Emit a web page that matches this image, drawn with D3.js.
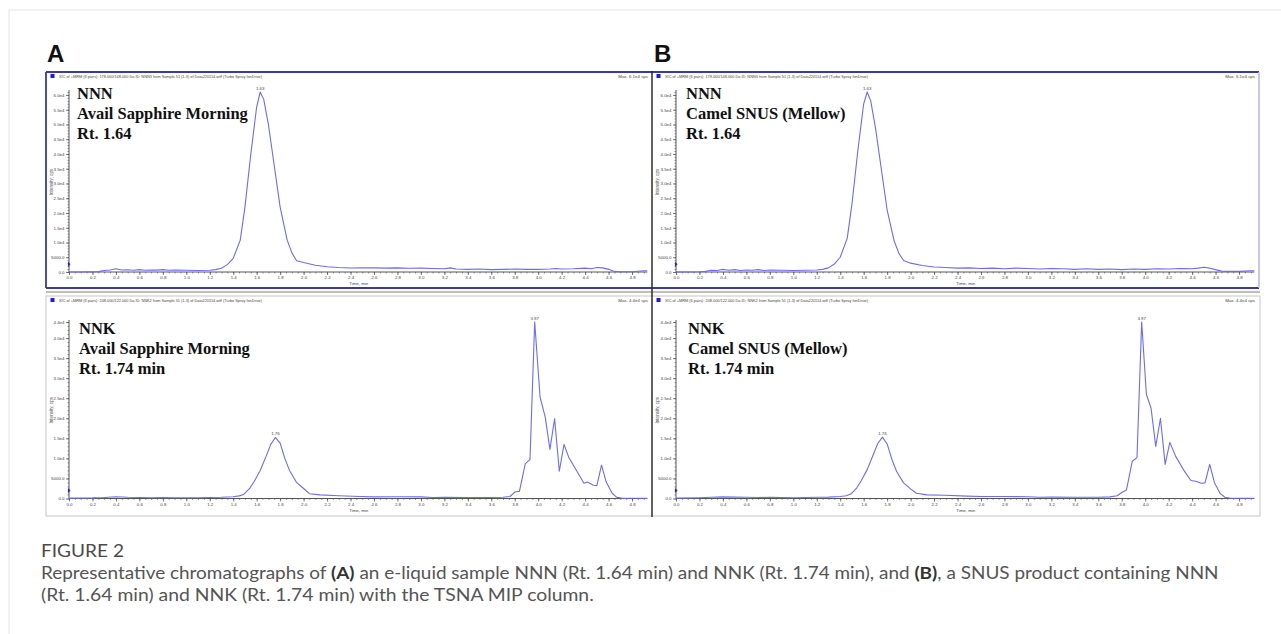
<!DOCTYPE html>
<html><head><meta charset="utf-8">
<script src="https://cdn.jsdelivr.net/npm/d3@7/dist/d3.min.js"></script>
<style>body{margin:0;background:#fff;}svg{display:block}</style>
</head><body>
<svg id="c" width="1281" height="634"></svg>
<script>
// ---------- DATA ----------
const timeTicks = [0.0,0.2,0.4,0.6,0.8,1.0,1.2,1.4,1.6,1.8,2.0,2.2,2.4,2.6,2.8,3.0,3.2,3.4,3.6,3.8,4.0,4.2,4.4,4.6,4.8];
const timeTickLabels = ["0.0","0.2","0.4","0.6","0.8","1.0","1.2","1.4","1.6","1.8","2.0","2.2","2.4","2.6","2.8","3.0","3.2","3.4","3.6","3.8","4.0","4.2","4.4","4.6","4.8"];
const nnnTicks = [0,5000,10000,15000,20000,25000,30000,35000,40000,45000,50000,55000,60000];
const nnnTickLabels = ["0.0","5000.0","1.0e4","1.5e4","2.0e4","2.5e4","3.0e4","3.5e4","4.0e4","4.5e4","5.0e4","5.5e4","6.0e4"];
const nnkTicks = [0,5000,10000,15000,20000,25000,30000,35000,40000,44000];
const nnkTickLabels = ["0.0","5000.0","1.0e4","1.5e4","2.0e4","2.5e4","3.0e4","3.5e4","4.0e4","4.4e4"];

const panelLetters = ["A","B"];
const productNames = ["Avail Sapphire Morning","Camel SNUS (Mellow)"];
const nnnLabels = ["NNN","Rt. 1.64"];
const nnkLabels = ["NNK","Rt. 1.74 min"];
const nnnHeader = "XIC of +MRM (6 pairs): 178.000/148.000 Da ID: NNN3 from Sample 51 (1-3) of Data220114.wiff (Turbo Spray IonDrive)";
const nnkHeader = "XIC of +MRM (6 pairs): 208.000/122.000 Da ID: NNK2 from Sample 51 (1-3) of Data220114.wiff (Turbo Spray IonDrive)";
const nnnMax = "Max. 6.1e4 cps";
const nnkMax = "Max. 4.4e4 cps";
const nnnPeak = {t:1.63, label:"1.63"};
const nnkPeaks = [{t:1.76, label:"1.76"},{t:3.97, label:"3.97"}];

// [time (min), intensity (cps)]
const nnnAvail = [[0,0],[0.1,0],[0.2,50],[0.25,100],[0.27,300],[0.3,500],[0.35,700],[0.4,1100],[0.45,700],[0.5,750],[0.55,600],[0.6,800],[0.65,600],[0.7,700],[0.75,650],[0.8,800],[0.85,600],[0.9,650],[1.0,600],[1.1,500],[1.2,600],[1.25,800],[1.3,1300],[1.35,2500],[1.4,4600],[1.46,10800],[1.5,22000],[1.55,40000],[1.6,56000],[1.63,61000],[1.66,58500],[1.7,50000],[1.75,36000],[1.8,22000],[1.86,10800],[1.9,6500],[1.94,3800],[2.0,3200],[2.1,2300],[2.2,1800],[2.3,1500],[2.4,1350],[2.5,1450],[2.6,1400],[2.7,1300],[2.8,1400],[2.9,1250],[3.0,1300],[3.1,1200],[3.2,1100],[3.25,1400],[3.3,1000],[3.4,900],[3.5,1000],[3.6,800],[3.7,900],[3.8,1000],[3.9,900],[4.0,900],[4.1,1000],[4.15,1200],[4.2,1000],[4.3,1100],[4.4,1300],[4.45,1100],[4.5,1500],[4.55,1400],[4.6,900],[4.65,200],[4.7,100],[4.8,100],[4.9,400],[4.93,400]];
const nnnCamel = [[0,0],[0.1,0],[0.2,100],[0.25,200],[0.3,600],[0.35,500],[0.4,900],[0.45,600],[0.5,800],[0.55,500],[0.6,700],[0.65,600],[0.7,800],[0.75,500],[0.8,700],[0.9,600],[1.0,500],[1.1,600],[1.2,700],[1.25,900],[1.3,1400],[1.35,2700],[1.4,5000],[1.46,11500],[1.5,23000],[1.55,41000],[1.6,57000],[1.63,61000],[1.66,58000],[1.7,49000],[1.75,35000],[1.8,21000],[1.86,10500],[1.9,6300],[1.94,3900],[2.0,3000],[2.1,2200],[2.2,1700],[2.3,1500],[2.4,1300],[2.5,1400],[2.6,1200],[2.7,1300],[2.8,1100],[2.9,1300],[3.0,1200],[3.1,1000],[3.2,1200],[3.3,1100],[3.4,900],[3.5,1100],[3.6,900],[3.7,1000],[3.8,800],[3.9,1000],[4.0,900],[4.1,1100],[4.2,1000],[4.3,1200],[4.4,1100],[4.45,1300],[4.5,1600],[4.55,1300],[4.6,800],[4.65,300],[4.7,200],[4.8,200],[4.9,400],[4.93,400]];
const nnkAvail = [[0,100],[0.2,150],[0.3,250],[0.4,450],[0.5,300],[0.6,250],[0.7,200],[0.8,250],[0.9,200],[1.0,200],[1.1,200],[1.2,250],[1.3,300],[1.4,450],[1.45,650],[1.49,1000],[1.54,2500],[1.58,4300],[1.63,7000],[1.68,10500],[1.72,13500],[1.76,15200],[1.8,13800],[1.84,10000],[1.88,7000],[1.94,4000],[2.0,2500],[2.05,1200],[2.14,900],[2.3,700],[2.48,500],[2.6,400],[2.8,450],[3.0,400],[3.1,250],[3.2,300],[3.4,250],[3.6,250],[3.7,300],[3.76,500],[3.8,1600],[3.84,1800],[3.89,8700],[3.93,9700],[3.97,44000],[4.016,25300],[4.06,20300],[4.1,12250],[4.14,19900],[4.18,6800],[4.22,13500],[4.26,10300],[4.33,6800],[4.39,3800],[4.42,4100],[4.47,3300],[4.5,3200],[4.54,8300],[4.58,4100],[4.63,1300],[4.67,300],[4.71,100],[4.8,50],[4.93,50]];
const nnkCamel = [[0,100],[0.2,200],[0.3,300],[0.4,400],[0.5,350],[0.6,300],[0.7,250],[0.8,300],[0.9,250],[1.0,200],[1.1,250],[1.2,300],[1.3,350],[1.4,500],[1.45,700],[1.49,1100],[1.54,2600],[1.58,4500],[1.63,7200],[1.68,10800],[1.72,13700],[1.76,15300],[1.8,13600],[1.84,9800],[1.88,6800],[1.94,3900],[2.0,2400],[2.05,1300],[2.14,900],[2.3,800],[2.48,600],[2.6,500],[2.8,500],[3.0,450],[3.1,300],[3.2,350],[3.4,300],[3.6,300],[3.7,400],[3.76,700],[3.8,1500],[3.84,2100],[3.89,9300],[3.93,10200],[3.97,44000],[4.01,26000],[4.05,22500],[4.09,13000],[4.13,20000],[4.17,8500],[4.21,14000],[4.26,10500],[4.33,7000],[4.39,4500],[4.43,4300],[4.48,3800],[4.51,3900],[4.55,8500],[4.59,4000],[4.64,1200],[4.68,300],[4.72,100],[4.8,50],[4.93,50]];

const captionTitle = "FIGURE 2";
const captionLine2 = "(Rt. 1.64 min) and NNK (Rt. 1.74 min) with the TSNA MIP column.";

// ---------- LAYOUT ----------
const svg = d3.select("#c");
const blue = "#6b6bff";
const darkBlue = "#3a3aa6";
const pxPerMin = 117.3;
const tMax = 4.93;
const sans = "Liberation Sans, Arial, sans-serif";

// outer figure frame
svg.append("line").attr("x1",9).attr("x2",1281).attr("y1",10).attr("y2",10).attr("stroke","#e3e3e3").attr("stroke-width",1);
svg.append("line").attr("x1",9).attr("x2",9).attr("y1",10).attr("y2",634).attr("stroke","#e3e3e3").attr("stroke-width",1);

const cols = [{left:46, right:652, axisX:69, textX:77},{left:652, right:1259, axisX:676, textX:686}];
const rows = [
  {top:72, y0:272, yMax:61000, yTop:92, ticks:nnnTicks, tickLabels:nnnTickLabels, header:nnnHeader, max:nnnMax, labels:nnnLabels, peaks:[nnnPeak], textBase:99, data:[nnnAvail,nnnCamel], markerVal:2600},
  {top:296, y0:498.5, yMax:44000, yTop:322, ticks:nnkTicks, tickLabels:nnkTickLabels, header:nnkHeader, max:nnkMax, labels:nnkLabels, peaks:nnkPeaks, textBase:334, data:[nnkAvail,nnkCamel], markerVal:2000}
];

// bottom panels gray frames
svg.append("line").attr("x1",46).attr("x2",1260).attr("y1",292).attr("y2",292).attr("stroke","#a9a9a9").attr("stroke-width",1.5);
svg.append("rect").attr("x",46).attr("y",296).attr("width",1214).attr("height",220).attr("fill","none").attr("stroke","#cfcfcf").attr("stroke-width",1.2);
// top panels blue frames
svg.append("line").attr("x1",46).attr("x2",1259).attr("y1",72).attr("y2",72).attr("stroke",darkBlue).attr("stroke-width",1.8);
svg.append("line").attr("x1",46).attr("x2",1259).attr("y1",288).attr("y2",288).attr("stroke",darkBlue).attr("stroke-width",1.8);
svg.append("line").attr("x1",46).attr("x2",46).attr("y1",72).attr("y2",288).attr("stroke",darkBlue).attr("stroke-width",1.8);
svg.append("line").attr("x1",1259).attr("x2",1259).attr("y1",72).attr("y2",288).attr("stroke","#b4b4ec").attr("stroke-width",1.5);
// divider between A and B
svg.append("line").attr("x1",652).attr("x2",652).attr("y1",71).attr("y2",517).attr("stroke","#2b2b2b").attr("stroke-width",1.5);

// panel letters
panelLetters.forEach((L,i)=>{
  svg.append("text").attr("x",cols[i].left+1 + (i===1?1:0)).attr("y",62).text(L)
    .attr("font-family",sans).attr("font-weight","bold").attr("font-size",24).attr("fill","#111");
});

rows.forEach((r,ri)=>{
  cols.forEach((c,ci)=>{
    const x = d3.scaleLinear().domain([0,tMax]).range([c.axisX, c.axisX + tMax*pxPerMin]);
    const y = d3.scaleLinear().domain([0,r.yMax]).range([r.y0, r.yTop]);
    const g = svg.append("g");

    // header
    g.append("rect").attr("x",c.left+4.5).attr("y",r.top+2).attr("width",4).attr("height",4).attr("fill","#1a1ae0");
    g.append("text").attr("x",c.left+13).attr("y",r.top+6.3).text(r.header)
      .attr("font-family",sans).attr("font-size",4.2).attr("fill","#444")
      .attr("textLength",203).attr("lengthAdjust","spacingAndGlyphs");
    g.append("text").attr("x",c.right-4).attr("y",r.top+6.3).text(r.max).attr("text-anchor","end")
      .attr("font-family",sans).attr("font-size",4.4).attr("fill","#444");

    // y axis title
    const yMid = (r.y0 + r.yTop)/2;
    g.append("text").attr("transform",`translate(${c.left+7},${yMid}) rotate(-90)`).attr("text-anchor","middle")
      .text("Intensity, cps").attr("font-family",sans).attr("font-size",4.6).attr("fill","#555");

    // minor ticks
    const minorY = d3.range(0, r.yMax+1, 1000);
    g.append("g").attr("transform",`translate(${c.axisX},0)`)
      .call(d3.axisLeft(y).tickValues(minorY).tickSize(1.5).tickFormat(""))
      .call(s=>{s.select(".domain").remove(); s.selectAll("line").attr("stroke","#555").attr("stroke-width",0.6);});
    const minorX = d3.range(0, 4.91, 0.05);
    g.append("g").attr("transform",`translate(0,${r.y0})`)
      .call(d3.axisBottom(x).tickValues(minorX).tickSize(1.5).tickFormat(""))
      .call(s=>{s.select(".domain").remove(); s.selectAll("line").attr("stroke","#555").attr("stroke-width",0.6);});

    // major axes
    const ya = g.append("g").attr("transform",`translate(${c.axisX},0)`)
      .call(d3.axisLeft(y).tickValues(r.ticks).tickSize(3).tickPadding(1.5).tickFormat((d,i)=>r.tickLabels[i]));
    ya.select(".domain").attr("d",`M0,${r.y0}V${r.yTop-2}`).attr("stroke","#444").attr("stroke-width",0.9);
    ya.selectAll(".tick line").attr("stroke","#444").attr("stroke-width",0.7);
    ya.selectAll(".tick text").attr("font-size",4.4).attr("font-family",sans).attr("fill","#444");

    const xa = g.append("g").attr("transform",`translate(0,${r.y0})`)
      .call(d3.axisBottom(x).tickValues(timeTicks).tickSize(3).tickPadding(1.2).tickFormat((d,i)=>timeTickLabels[i]));
    xa.select(".domain").attr("d",`M${c.axisX},0H${x(tMax)}`).attr("stroke","#444").attr("stroke-width",0.9);
    xa.selectAll(".tick line").attr("stroke","#444").attr("stroke-width",0.7);
    xa.selectAll(".tick text").attr("font-size",4.4).attr("font-family",sans).attr("fill","#444");

    g.append("text").attr("x",x(2.47)).attr("y",r.y0+13).text("Time, min").attr("text-anchor","middle")
      .attr("font-family",sans).attr("font-size",4.4).attr("fill","#444");

    // threshold marker on y axis
    g.append("path").attr("d",`M${c.axisX-1},${y(r.markerVal)-2.5}L${c.axisX+1.5},${y(r.markerVal)}L${c.axisX-1},${y(r.markerVal)+2.5}Z`).attr("fill","#2020e0");

    // trace
    const data = r.data[ci];
    g.append("path").datum(data)
      .attr("d", d3.line().x(d=>x(d[0])).y(d=>y(d[1])))
      .attr("fill","none").attr("stroke",blue).attr("stroke-width",1.1).attr("stroke-linejoin","round");

    // peak labels
    r.peaks.forEach(p=>{
      const pt = data.find(d=>Math.abs(d[0]-p.t)<1e-6);
      g.append("text").attr("x",x(p.t)).attr("y",y(pt[1])-2.5).attr("text-anchor","middle").text(p.label)
        .attr("font-family",sans).attr("font-size",4.4).attr("fill","#444");
    });

    // annotation text
    const lines = [r.labels[0], productNames[ci], r.labels[1]];
    lines.forEach((t,li)=>{
      g.append("text").attr("x",c.textX + (ri===1?2:0)).attr("y",r.textBase + li*20).text(t)
        .attr("font-family","Liberation Serif, 'Times New Roman', serif").attr("font-weight","bold")
        .attr("font-size",16.5).attr("fill","#111");
    });
  });
});

// caption: text laid out at natural width, then horizontally condensed to the reference width
const capFont = "Lato, 'Open Sans', sans-serif";
const capSize = 17.4;
function fitLine(sel, x0, yb, target){
  const w = sel.node().getComputedTextLength();
  sel.attr("transform",`translate(${x0},${yb}) scale(${target/w},1)`);
}
const t0 = svg.append("text").attr("x",0).attr("y",0).text(captionTitle)
  .attr("font-family",capFont).attr("font-size",capSize).attr("fill","#4a4a4a");
fitLine(t0, 41, 557, 83);
const cap1 = svg.append("text").attr("x",0).attr("y",0).attr("font-family",capFont).attr("font-size",capSize).attr("fill","#555");
cap1.append("tspan").text("Representative chromatographs of ");
cap1.append("tspan").text("(A)").attr("font-weight","bold").attr("fill","#333");
cap1.append("tspan").text(" an e-liquid sample NNN (Rt. 1.64 min) and NNK (Rt. 1.74 min), and ");
cap1.append("tspan").text("(B)").attr("font-weight","bold").attr("fill","#333");
cap1.append("tspan").text(", a SNUS product containing NNN");
fitLine(cap1, 41, 579, 1178);
const cap2 = svg.append("text").attr("x",0).attr("y",0).attr("font-family",capFont).attr("font-size",capSize).attr("fill","#555")
  .text(captionLine2);
fitLine(cap2, 41, 601, 553);
</script>
</body></html>
